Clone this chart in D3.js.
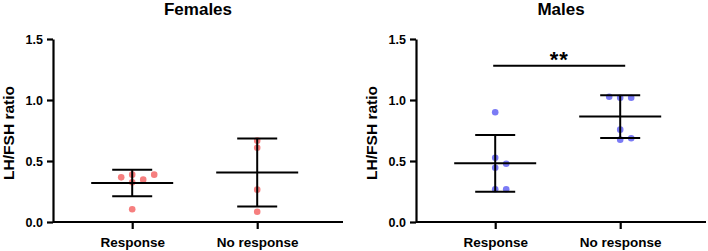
<!DOCTYPE html>
<html>
<head>
<meta charset="utf-8">
<script src="https://cdn.jsdelivr.net/npm/d3@7"></script>
<style>
  body { margin: 0; background: #fff; }
  svg { display: block; font-family: Arial, "Liberation Sans", sans-serif; }
  .axis path, .axis line { stroke: #000; stroke-width: 2.2px; }
  .axis text { font-weight: bold; fill: #000; }
</style>
</head>
<body>
<div id="chart"></div>
<script>
const categories = ['Response', 'No response'];
const yTicks = [0, 0.5, 1.0, 1.5];
const panelTitles = ['Females', 'Males'];

// LH/FSH ratio per subject
const femaleResponse = [0.388, 0.347, 0.388, 0.325, 0.366, 0.104];
const femaleNoResponse = [0.667, 0.609, 0.265, 0.084];
const maleResponse = [0.899, 0.527, 0.478, 0.445, 0.268, 0.268];
const maleNoResponse = [1.027, 1.019, 1.019, 0.757, 0.675, 0.686];

const maleSigLevel = 1.28;
const maleSigLabel = '**';

const panels = [
  { title: panelTitles[0], color: '#f67f7f', groups: [femaleResponse, femaleNoResponse], sig: null },
  { title: panelTitles[1], color: '#7b7bf5', groups: [maleResponse, maleNoResponse],
    sig: { level: maleSigLevel, label: maleSigLabel } }
];

const width = 708, height = 251;
const svg = d3.select('#chart').append('svg')
  .attr('width', width)
  .attr('height', height);

// spread points that sit at nearly the same height, like a column scatter
function dodge(values, y, slot, minGap) {
  const order = d3.range(values.length).sort((a, b) => values[a] - values[b]);
  const placed = [];
  const offsets = new Array(values.length);
  order.forEach(i => {
    const py = y(values[i]);
    for (let k = 0; k < 20; k++) {
      const s = k === 0 ? 0 : (k % 2 ? Math.ceil(k / 2) : -k / 2);
      const clash = placed.some(p => p.s === s && Math.abs(p.y - py) < minGap);
      if (!clash) {
        placed.push({ s, y: py });
        offsets[i] = s * slot;
        break;
      }
    }
  });
  return offsets;
}

const yScale = d3.scaleLinear().domain([0, 1.5]).range([222, 39]);
const panelLeft = [53, 416];
const plotWidth = 290;

panels.forEach((panel, pi) => {
  const x0 = panelLeft[pi];
  const xScale = d3.scalePoint()
    .domain(categories)
    .range([x0, x0 + plotWidth])
    .padding(0.66)
    .align(0.48);

  const g = svg.append('g');

  // title
  g.append('text')
    .attr('x', x0 + plotWidth / 2)
    .attr('y', 15)
    .attr('text-anchor', 'middle')
    .style('font-size', '17px')
    .style('font-weight', 'bold')
    .text(panel.title);

  // y axis label
  g.append('text')
    .attr('transform', `translate(${x0 - 39},${yScale(0.73)}) rotate(-90)`)
    .attr('text-anchor', 'middle')
    .style('font-size', '15.5px')
    .style('font-weight', 'bold')
    .text('LH/FSH ratio');

  // axes
  g.append('g')
    .attr('class', 'axis y-axis')
    .attr('transform', `translate(${x0},0)`)
    .call(d3.axisLeft(yScale).tickValues(yTicks).tickFormat(d3.format('.1f'))
      .tickSize(6).tickSizeOuter(0).tickPadding(4))
    .selectAll('text').style('font-size', '12.5px');

  g.append('g')
    .attr('class', 'axis x-axis')
    .attr('transform', `translate(0,${yScale(0)})`)
    .call(d3.axisBottom(xScale).tickSize(7).tickSizeOuter(0).tickPadding(8))
    .selectAll('text').style('font-size', '13.5px');

  // domain spans the whole plot width
  g.select('.x-axis .domain').attr('d', `M${x0},0H${x0 + plotWidth}`);

  panel.groups.forEach((vals, gi) => {
    const cx = xScale(categories[gi]);
    const offsets = dodge(vals, yScale, 11, 6);

    g.selectAll(`.dot-${gi}`)
      .data(vals)
      .join('circle')
      .attr('class', `dot-${gi}`)
      .attr('cx', (d, i) => cx + offsets[i])
      .attr('cy', d => yScale(d))
      .attr('r', 3.3)
      .attr('fill', panel.color);

    const mean = d3.mean(vals);
    const sd = d3.deviation(vals);

    const bars = g.append('g')
      .attr('stroke', '#000')
      .attr('stroke-width', 2);

    bars.append('line')
      .attr('x1', cx).attr('x2', cx)
      .attr('y1', yScale(mean + sd)).attr('y2', yScale(mean - sd));
    bars.append('line')
      .attr('x1', cx - 41).attr('x2', cx + 41)
      .attr('y1', yScale(mean)).attr('y2', yScale(mean));
    [mean + sd, mean - sd].forEach(v => {
      bars.append('line')
        .attr('x1', cx - 20).attr('x2', cx + 20)
        .attr('y1', yScale(v)).attr('y2', yScale(v));
    });
  });

  if (panel.sig) {
    const xa = xScale(categories[0]) - 2;
    const xb = xScale(categories[1]) + 5;
    g.append('line')
      .attr('x1', xa).attr('x2', xb)
      .attr('y1', yScale(panel.sig.level)).attr('y2', yScale(panel.sig.level))
      .attr('stroke', '#000')
      .attr('stroke-width', 2);
    g.append('text')
      .attr('x', (xa + xb) / 2)
      .attr('y', yScale(panel.sig.level) + 1)
      .attr('text-anchor', 'middle')
      .style('font-size', '22px')
      .style('font-weight', 'bold')
      .style('letter-spacing', '1px')
      .text(panel.sig.label);
  }
});
</script>
</body>
</html>
